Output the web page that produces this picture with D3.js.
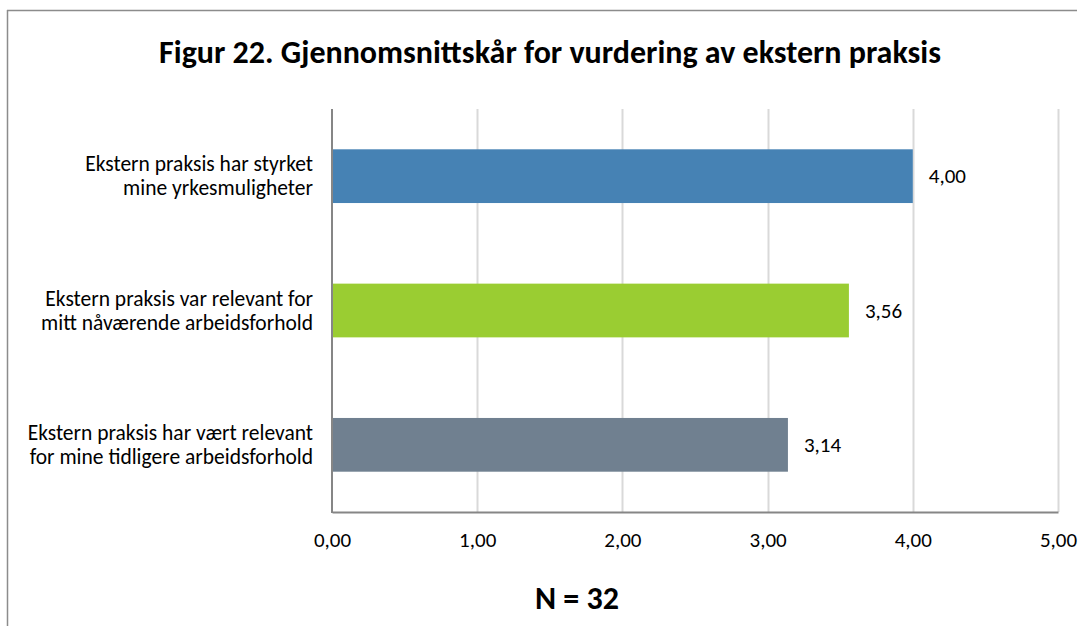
<!DOCTYPE html>
<html>
<head>
<meta charset="utf-8">
<script src="https://cdn.jsdelivr.net/npm/d3@7"></script>
<style>
  html, body { margin: 0; padding: 0; background: #fff; }
  svg { display: block; }
  text { font-family: Carlito, Calibri, Lato, "Open Sans", sans-serif; fill: #000; }
</style>
</head>
<body>
<svg id="chart" width="1078" height="626"></svg>
<script>
const title = "Figur 22. Gjennomsnittskår for vurdering av ekstern praksis";
const footnote = "N = 32";
const categories = [
  ["Ekstern praksis har styrket", "mine yrkesmuligheter"],
  ["Ekstern praksis var relevant for", "mitt nåværende arbeidsforhold"],
  ["Ekstern praksis har vært relevant", "for mine tidligere arbeidsforhold"]
];
const values = [4.00, 3.56, 3.14];
const colors = ["#4682B4", "#9ACD32", "#708090"];
const tickValues = [0, 1, 2, 3, 4, 5];

const svg = d3.select("#chart");
const W = 1078, H = 626;
const x0 = 332, x1 = 1058, y0 = 109, y1 = 512;

// frame
svg.append("line").attr("x1", 7).attr("x2", 1077).attr("y1", 10.5).attr("y2", 10.5)
  .attr("stroke", "#8c8c8c").attr("stroke-width", 1.5);
svg.append("line").attr("x1", 7.5).attr("x2", 7.5).attr("y1", 10).attr("y2", H)
  .attr("stroke", "#8c8c8c").attr("stroke-width", 1.5);

const fmt = v => d3.format(".2f")(v).replace(".", ",");

const x = d3.scaleLinear().domain([0, 5]).range([x0, x1]);
const y = d3.scaleBand().domain(d3.range(categories.length)).range([y0, y1])
  .paddingInner(0.6).paddingOuter(0.3);

// gridlines
svg.append("g").selectAll("line").data(tickValues.slice(1)).join("line")
  .attr("x1", d => Math.round(x(d)) + 0.5).attr("x2", d => Math.round(x(d)) + 0.5)
  .attr("y1", y0).attr("y2", y1)
  .attr("stroke", "#d9d9d9").attr("stroke-width", 2);

// bars
svg.append("g").selectAll("rect").data(values).join("rect")
  .attr("x", x(0)).attr("y", (d, i) => y(i))
  .attr("width", d => x(d) - x(0)).attr("height", y.bandwidth())
  .attr("fill", (d, i) => colors[i]);

// value labels
svg.append("g").selectAll("text").data(values).join("text")
  .attr("x", d => x(d) + 16).attr("y", (d, i) => y(i) + y.bandwidth() / 2 + 7)
  .attr("font-size", 21).text(d => fmt(d));

// x axis
const xAxis = d3.axisBottom(x).tickValues(tickValues).tickSize(0).tickPadding(20).tickFormat(fmt);
const gx = svg.append("g").attr("transform", `translate(0,${y1})`).call(xAxis);
gx.attr("font-family", null).attr("font-size", null);
gx.select(".domain").attr("stroke", "#868686").attr("stroke-width", 2);
gx.selectAll("text").attr("font-size", 21);

// y axis line
svg.append("line").attr("x1", x0).attr("x2", x0).attr("y1", y0).attr("y2", y1 + 1)
  .attr("stroke", "#868686").attr("stroke-width", 2);

// category labels
const cat = svg.append("g").selectAll("text").data(categories).join("text")
  .attr("text-anchor", "end").attr("font-size", 21.5)
  .attr("y", (d, i) => y(i) + y.bandwidth() / 2 - 5);
cat.selectAll("tspan").data(d => d).join("tspan")
  .attr("x", 313)
  .attr("dy", (d, j) => j === 0 ? 0 : 24)
  .text(d => d);

// title
svg.append("text").attr("x", 550).attr("y", 63).attr("text-anchor", "middle")
  .attr("font-size", 32).attr("font-weight", "bold").text(title);

// footnote
svg.append("text").attr("x", 577).attr("y", 609).attr("text-anchor", "middle")
  .attr("font-size", 32).attr("font-weight", "bold").text(footnote);
</script>
</body>
</html>
